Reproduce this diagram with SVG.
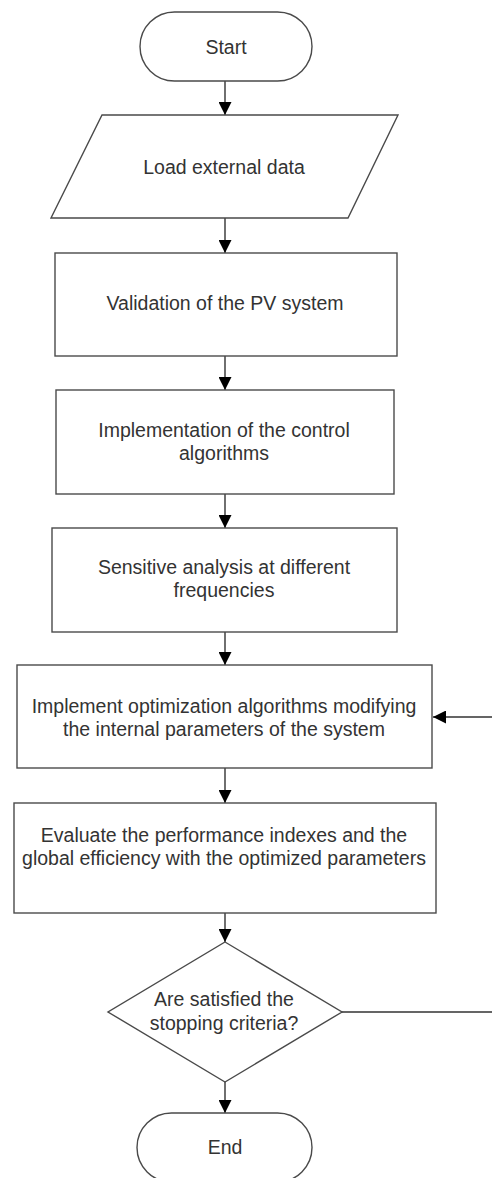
<svg xmlns="http://www.w3.org/2000/svg" width="492" height="1178" viewBox="0 0 492 1178">
<style>
.shape{fill:#fff;stroke:#4a4a4a;stroke-width:1.4}
.conn{fill:none;stroke:#333;stroke-width:1.4}
text{font-family:"Liberation Sans",Arial,sans-serif;font-size:19.5px;fill:#333;text-anchor:middle}
</style>
<defs>
<marker id="arr" markerWidth="13" markerHeight="13" viewBox="0 0 13 13" refX="13" refY="6.5" orient="auto" markerUnits="userSpaceOnUse">
<path d="M0,0 L13,6.5 L0,13 Z" fill="#000"/>
</marker>
</defs>
<rect width="492" height="1178" fill="#fff"/>
<g id="connectors">
<line class="conn" x1="225" y1="81" x2="225" y2="115" marker-end="url(#arr)"/>
<line class="conn" x1="225" y1="218" x2="225" y2="253" marker-end="url(#arr)"/>
<line class="conn" x1="225" y1="356" x2="225" y2="390" marker-end="url(#arr)"/>
<line class="conn" x1="225" y1="494" x2="225" y2="528" marker-end="url(#arr)"/>
<line class="conn" x1="225" y1="632" x2="225" y2="665" marker-end="url(#arr)"/>
<line class="conn" x1="225" y1="768" x2="225" y2="803" marker-end="url(#arr)"/>
<line class="conn" x1="225" y1="913" x2="225" y2="942" marker-end="url(#arr)"/>
<line class="conn" x1="225" y1="1082" x2="225" y2="1113" marker-end="url(#arr)"/>
<path class="conn" d="M342,1012 H496 V717 H433" marker-end="url(#arr)"/>
</g>
<g id="start">
<rect class="shape" x="140" y="12" width="172" height="69" rx="34.5"/>
<text x="226" y="54">Start</text>
</g>
<g id="load">
<polygon class="shape" points="102,115 398,115 348,218 51,218"/>
<text x="224" y="174">Load external data</text>
</g>
<g id="validation">
<rect class="shape" x="55" y="253" width="342" height="103"/>
<text x="225" y="310">Validation of the PV system</text>
</g>
<g id="implementation">
<rect class="shape" x="56" y="390" width="338" height="104"/>
<text x="224" y="437">Implementation of the control</text>
<text x="224" y="460">algorithms</text>
</g>
<g id="sensitive">
<rect class="shape" x="52" y="528" width="345" height="104"/>
<text x="224" y="574">Sensitive analysis at different</text>
<text x="224" y="597">frequencies</text>
</g>
<g id="optimize">
<rect class="shape" x="17" y="665" width="415" height="103"/>
<text x="224" y="713">Implement optimization algorithms modifying</text>
<text x="224" y="736">the internal parameters of the system</text>
</g>
<g id="evaluate">
<rect class="shape" x="14" y="803" width="422" height="110"/>
<text x="224" y="842">Evaluate the performance indexes and the</text>
<text x="224" y="865">global efficiency with the optimized parameters</text>
</g>
<g id="decision">
<polygon class="shape" points="225,942 342,1012 225,1082 108,1012"/>
<text x="224" y="1006">Are satisfied the</text>
<text x="224" y="1030">stopping criteria?</text>
</g>
<g id="end">
<rect class="shape" x="137" y="1113" width="175" height="69" rx="34.5"/>
<text x="225" y="1154">End</text>
</g>
</svg>
